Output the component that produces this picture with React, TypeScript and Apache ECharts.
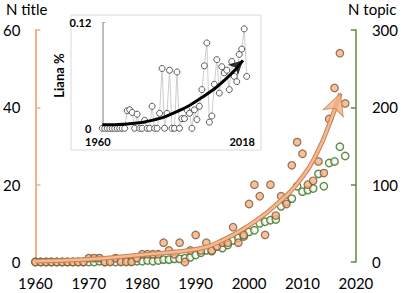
import React, { useEffect, useRef } from "react";
import * as echarts from "echarts";

// ---- data ----
const years = [
  1960, 1961, 1962, 1963, 1964, 1965, 1966, 1967, 1968, 1969,
  1970, 1971, 1972, 1973, 1974, 1975, 1976, 1977, 1978, 1979,
  1980, 1981, 1982, 1983, 1984, 1985, 1986, 1987, 1988, 1989,
  1990, 1991, 1992, 1993, 1994, 1995, 1996, 1997, 1998, 1999,
  2000, 2001, 2002, 2003, 2004, 2005, 2006, 2007, 2008, 2009,
  2010, 2011, 2012, 2013, 2014, 2015, 2016, 2017, 2018,
];
const nTitle = [
  0, 0, 0, 0, 0, 0, 0, 0, 0, 0,
  1, 1, 1, 0, 0, 1, 0, 0, 0, 1,
  2, 2, 2, 2, 5, 3, 2, 5, 0, 3,
  7, 3, 5, 3, 4, 5, 5, 9, 5, 7,
  15, 20, 17, 7, 20, 12, 17, 15, 25, 31,
  28, 20, 21, 26, 23, 37, 45, 54, 41,
];
const nTopic = [
  0, 0, 0, 0, 0, 0, 0, 0, 0, 0,
  0, 0, 1, 0, 1, 0, 1, 1, 1, 1,
  1, 2, 1, 2, 3, 3, 4, 4, 5, 6,
  9, 12, 15, 14, 20, 18, 22, 28, 31, 33,
  39, 41, 50, 52, 54, 55, 72, 78, 82, 98,
  91, 93, 95, 114, 98, 128, 130, 149, 137,
];
const lianaPct = [
  0, 0, 0, 0, 0, 0, 0, 0, 0, 0,
  0.020, 0.021, 0.018, 0, 0.016, 0, 0, 0.009, 0, 0,
  0.025, 0, 0, 0.017, 0.068, 0, 0.017, 0.066, 0, 0,
  0.064, 0, 0.011, 0.011, 0.021, 0.017, 0, 0.021, 0.010, 0.025,
  0.044, 0.071, 0.097, 0.007, 0.014, 0.050, 0.078, 0.040, 0.070, 0.063,
  0.066, 0.044, 0.076, 0.059, 0.053, 0.084, 0.090, 0.113, 0.059,
];
const titleTrendYears = [1960, 1970, 1980, 1990, 1995, 2000, 2005, 2010, 2013, 2015, 2017.1];
const titleTrendValues = [0.2, 0.7, 1.9, 3.3, 5.6, 9.5, 14.7, 22, 29, 35.6, 43.6];
const lianaTrendYears = [1960, 1970, 1980, 1990, 2000, 2010, 2016.5];
const lianaTrendValues = [0.004, 0.005, 0.009, 0.019, 0.035, 0.057, 0.0773];

const xTicks = { min: 1960, max: 2020, interval: 10 };
const leftTicks = { min: 0, max: 60, interval: 20 };
const rightTicks = { min: 0, max: 300, interval: 100 };
const insetXLabels = [1960, 2018];
const insetY = { min: 0, max: 0.12, interval: 0.12 };

const ORANGE = "#f4b183";
const ORANGE_DARK = "#c98050";
const GREEN = "#5b8a3a";
const FONT = "Lato";

export default function App() {
  const ref = useRef<HTMLDivElement>(null);
  useEffect(() => {
    if (!ref.current) return;
    const chart = echarts.init(ref.current, undefined, { renderer: "svg" });
    const pair = (xs: number[], ys: number[]) => xs.map((x, i) => [x, ys[i]]);
    const titleTrend = pair(titleTrendYears, titleTrendValues);
    const lianaTrend = pair(lianaTrendYears, lianaTrendValues);
    const plain = (v: number) => String(v);
    const greenFill = {
      type: "radial", x: 0.5, y: 0.5, r: 0.5,
      colorStops: [
        { offset: 0, color: "#ffffff" },
        { offset: 0.6, color: "#f0f7ea" },
        { offset: 1, color: "#b9d9a5" },
      ],
    };
    chart.setOption({
      animation: false,
      textStyle: { fontFamily: FONT },
      grid: [
        { left: 35, right: 44, top: 30, bottom: 31 },
        { left: 102.3, top: 22.7, width: 144.4, height: 105.6 },
      ],
      xAxis: [
        {
          type: "value", gridIndex: 0, ...xTicks,
          axisLine: { show: false }, axisTick: { show: false }, splitLine: { show: false },
          axisLabel: { fontSize: 15, color: "#000", margin: 13, fontFamily: FONT, formatter: plain },
        },
        {
          type: "value", gridIndex: 1, min: 1960, max: 2018,
          axisLine: { show: false }, axisTick: { show: false }, splitLine: { show: false },
          axisLabel: {
            customValues: insetXLabels, fontSize: 11, fontWeight: "bold", color: "#000",
            margin: 8, padding: [0, 9, 0, 0], fontFamily: FONT, formatter: plain,
          },
        },
      ],
      yAxis: [
        {
          type: "value", gridIndex: 0, position: "left", ...leftTicks,
          axisLine: { show: true, lineStyle: { color: ORANGE, width: 2 } },
          axisTick: { show: true, inside: true, length: 5, lineStyle: { color: ORANGE, width: 1.5 } },
          splitLine: { show: false },
          axisLabel: { fontSize: 15, color: "#000", margin: 15, fontFamily: FONT },
        },
        {
          type: "value", gridIndex: 0, position: "right", ...rightTicks,
          axisLine: { show: true, lineStyle: { color: GREEN, width: 1.5 } },
          axisTick: { show: true, inside: true, length: 5, lineStyle: { color: GREEN, width: 1.5 } },
          splitLine: { show: false },
          axisLabel: { fontSize: 15, color: "#000", margin: 16, fontFamily: FONT },
        },
        {
          type: "value", gridIndex: 1, ...insetY,
          name: "Liana %", nameLocation: "middle", nameGap: 17,
          nameTextStyle: { fontSize: 13, fontWeight: "bold", color: "#000", fontFamily: FONT },
          axisLine: { show: true, lineStyle: { color: "#a6a6a6", width: 1.5 } },
          axisTick: { show: true, inside: true, length: 3, lineStyle: { color: "#a6a6a6" } },
          splitLine: { show: false },
          axisLabel: { fontSize: 11, fontWeight: "bold", color: "#000", margin: 11, fontFamily: FONT },
        },
      ],
      graphic: [
        {
          type: "rect", z: -1, shape: { x: 71, y: 15, width: 190, height: 135 },
          style: { fill: "#fff", stroke: "#d9d9d9", lineWidth: 1 },
        },
        {
          type: "text", x: 6, y: 9,
          style: { text: "N title", fontSize: 15, fontFamily: FONT, fill: "#000", verticalAlign: "middle", align: "left" },
        },
        {
          type: "text", x: 348, y: 9,
          style: { text: "N topic", fontSize: 15, fontFamily: FONT, fill: "#000", verticalAlign: "middle", align: "left" },
        },
      ],
      series: [
        {
          name: "N topic", type: "scatter", xAxisIndex: 0, yAxisIndex: 1, z: 3,
          data: pair(years, nTopic), symbolSize: 7.5,
          itemStyle: { color: greenFill, borderColor: "#3d6b22", borderWidth: 1.3 },
        },
        {
          name: "N title", type: "scatter", xAxisIndex: 0, yAxisIndex: 0, z: 4,
          data: pair(years, nTitle), symbolSize: 7.5,
          itemStyle: { color: ORANGE, borderColor: "#7a5434", borderWidth: 1.2 },
        },
        {
          type: "line", xAxisIndex: 0, yAxisIndex: 0, z: 5, smooth: true, symbol: "none",
          data: titleTrend, lineStyle: { color: ORANGE_DARK, width: 4.5 },
        },
        {
          type: "line", xAxisIndex: 0, yAxisIndex: 0, z: 6, smooth: true, symbol: "none",
          data: titleTrend, lineStyle: { color: "#f6b992", width: 2.5 },
        },
        {
          type: "scatter", xAxisIndex: 0, yAxisIndex: 0, z: 7,
          data: [{ value: titleTrend[titleTrend.length - 1], symbolRotate: -20 }],
          symbol: "arrow", symbolSize: [16, 21],
          itemStyle: { color: ORANGE, borderColor: ORANGE_DARK, borderWidth: 1 },
        },
        {
          type: "line", xAxisIndex: 1, yAxisIndex: 2, z: 10,
          data: pair(years, lianaPct), symbol: "circle", symbolSize: 6, showSymbol: true,
          itemStyle: { color: "#fff", borderColor: "#595959", borderWidth: 1 },
          lineStyle: { color: "#cccccc", width: 1 },
        },
        {
          type: "line", xAxisIndex: 1, yAxisIndex: 2, z: 11, smooth: true, symbol: "none",
          data: lianaTrend, lineStyle: { color: "#000", width: 3 },
        },
        {
          type: "scatter", xAxisIndex: 1, yAxisIndex: 2, z: 12,
          data: [{ value: lianaTrend[lianaTrend.length - 1], symbolRotate: -46 }],
          symbol: "arrow", symbolSize: [11, 14],
          itemStyle: { color: "#000" },
        },
      ],
    });
    return () => chart.dispose();
  }, []);
  return <div ref={ref} style={{ position: "absolute", left: 0, top: 0, width: 401, height: 293 }} />;
}
